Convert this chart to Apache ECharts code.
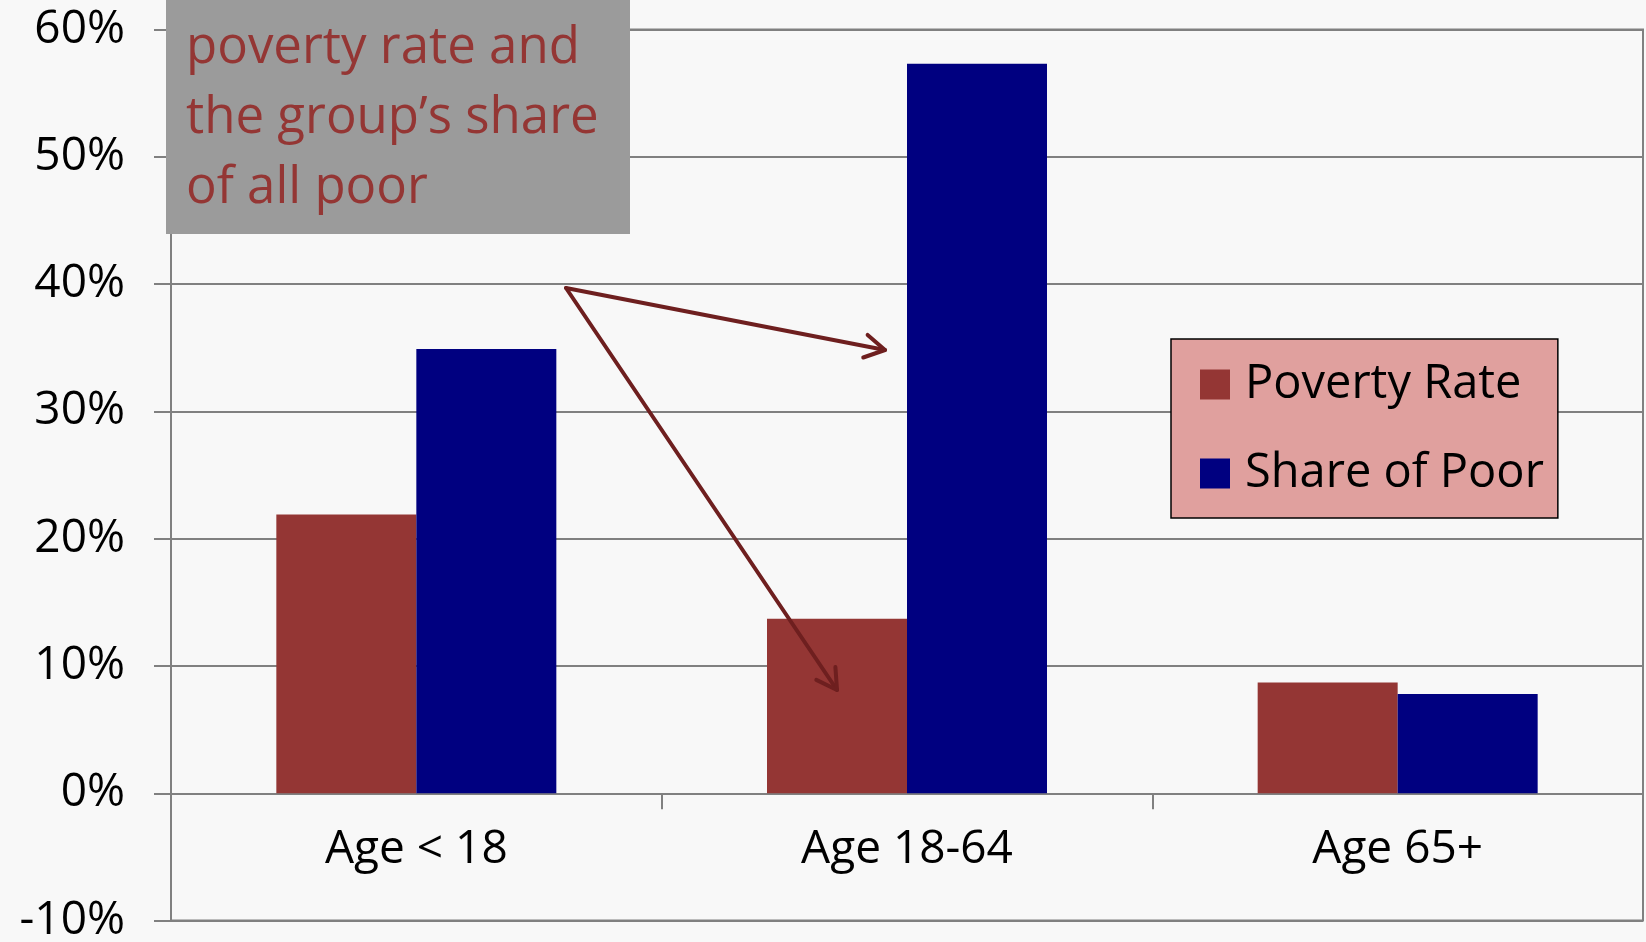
<!DOCTYPE html>
<html>
<head>
<meta charset="utf-8">
<script src="https://cdn.jsdelivr.net/npm/echarts@6/dist/echarts.min.js"></script>
<style>
html,body{margin:0;padding:0;background:#f8f8f8;}
#chart{width:1646px;height:942px;}
</style>
</head>
<body>
<div id="chart"></div>
<script>
const categories = ['Age < 18', 'Age 18-64', 'Age 65+'];
const povertyRate = [21.9, 13.7, 8.7];
const shareOfPoor = [34.9, 57.3, 7.8];
const seriesNames = ['Poverty Rate', 'Share of Poor'];
const annotationLines = ['poverty rate and', 'the group\u2019s share', 'of all poor'];
const yMin = -10, yMax = 60, yStep = 10;

const FONT = '"Open Sans", "Noto Sans", sans-serif';
const W = 1646, H = 942;
const gridTop = 29.4, gridBottom = 21.4, gridLeft = 171, gridRight = 3;
const gridH = H - gridTop - gridBottom;
// place the category axis on the zero line (move it up from the grid bottom)
const zeroOffset = -gridH * (0 - yMin) / (yMax - yMin);

const chart = echarts.init(document.getElementById('chart'));

function arrow(x1, y1, x2, y2, color) {
  const dx = x2 - x1, dy = y2 - y1;
  const L = Math.sqrt(dx * dx + dy * dy);
  const ux = dx / L, uy = dy / L;
  const h = 23, a = Math.PI / 6;
  const c = Math.cos(a), s = Math.sin(a);
  const b1x = x2 - h * (ux * c - uy * s), b1y = y2 - h * (uy * c + ux * s);
  const b2x = x2 - h * (ux * c + uy * s), b2y = y2 - h * (uy * c - ux * s);
  return [
    { type: 'line', z: 100, shape: { x1: x1, y1: y1, x2: x2, y2: y2 }, style: { stroke: color, lineWidth: 4, lineCap: 'round' } },
    { type: 'polyline', z: 100, shape: { points: [[b1x, b1y], [x2, y2], [b2x, b2y]] }, style: { stroke: color, lineWidth: 4, fill: null, lineCap: 'round', lineJoin: 'round' } }
  ];
}

const arrowColor = '#6e1f1f';
const graphics = [
  { type: 'rect', z: 90, shape: { x: 166, y: 0, width: 464, height: 234 }, style: { fill: '#9b9b9b' } }
];
annotationLines.forEach(function (t, i) {
  graphics.push({ type: 'text', z: 95, x: 186, y: 48 + i * 70,
    style: { text: t, fill: '#943634', font: '51px ' + FONT, verticalAlign: 'middle', align: 'left' } });
});
graphics.push.apply(graphics, arrow(566, 288, 885, 350, arrowColor));
graphics.push.apply(graphics, arrow(566, 288, 837, 690, arrowColor));

const option = {
  backgroundColor: '#f8f8f8',
  animation: false,
  grid: { left: gridLeft, right: gridRight, top: gridTop, bottom: gridBottom, containLabel: false, outerBoundsMode: 'none',
    show: true, borderColor: '#808080', borderWidth: 2, backgroundColor: 'transparent' },
  legend: {
    orient: 'vertical', left: 1171, top: 339,
    padding: [22, 14, 21, 29],
    itemGap: 42, itemWidth: 30, itemHeight: 30, icon: 'rect',
    backgroundColor: '#e0a09e', borderColor: '#000', borderWidth: 1.5,
    textStyle: { fontSize: 47, fontFamily: FONT, color: '#000', lineHeight: 46, padding: [0, 0, 0, 10] },
    data: seriesNames
  },
  xAxis: {
    type: 'category', data: categories, offset: zeroOffset,
    axisLine: { onZero: false, lineStyle: { color: '#808080', width: 2 } },
    axisTick: { show: true, length: 16, lineStyle: { color: '#808080', width: 2 } },
    axisLabel: { fontSize: 46, fontFamily: FONT, color: '#000', margin: 34 }
  },
  yAxis: {
    type: 'value', min: yMin, max: yMax, interval: yStep,
    axisLine: { show: true, lineStyle: { color: '#808080', width: 2 } },
    axisTick: { show: true, length: 17, lineStyle: { color: '#808080', width: 2 } },
    axisLabel: { formatter: '{value}%', fontSize: 46, fontFamily: FONT, color: '#000', margin: 46 },
    splitLine: { show: true, lineStyle: { color: '#808080', width: 2 } }
  },
  series: [
    { name: seriesNames[0], type: 'bar', data: povertyRate, barWidth: 140, barGap: '0%', itemStyle: { color: '#943634' } },
    { name: seriesNames[1], type: 'bar', data: shareOfPoor, barWidth: 140, barGap: '0%', itemStyle: { color: '#000080' } }
  ],
  graphic: graphics
};
chart.setOption(option);
</script>
</body>
</html>
